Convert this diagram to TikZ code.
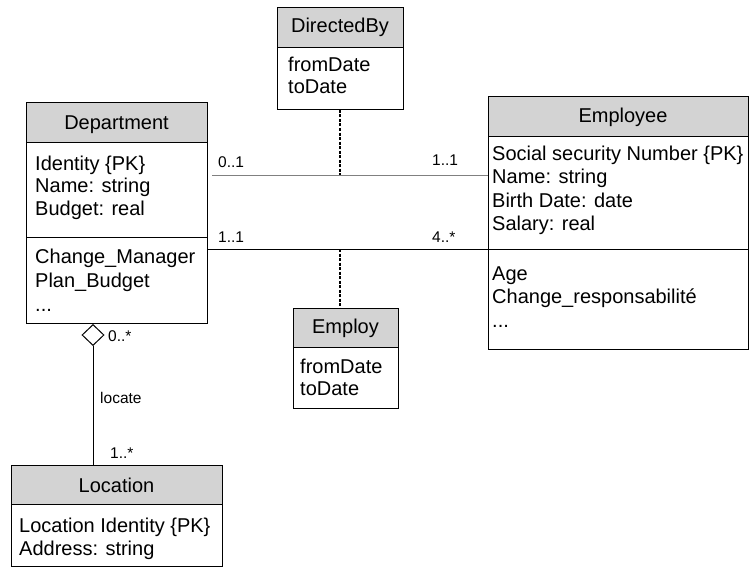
\documentclass[tikz,border=0pt]{standalone}
\usepackage{fontspec}
\setmainfont{Liberation Sans}
\usetikzlibrary{shapes.geometric}
\definecolor{headgray}{RGB}{211,211,211}
\definecolor{linegray}{RGB}{128,128,128}
\begin{document}
\begin{tikzpicture}[x=1pt,y=-1pt,
 box/.style={draw=black, line width=1pt, fill=white, inner sep=0, outer sep=0, anchor=north west},
 headbox/.style={box, fill=headgray},
 ttl/.style={anchor=base, inner sep=0, font=\fontsize{20}{23}\selectfont},
 attr/.style={anchor=base west, inner sep=0, font=\fontsize{20}{23}\selectfont},
 lbl/.style={anchor=base west, inner sep=0, font=\fontsize{15.5}{18}\selectfont},
 sepline/.style={line width=1pt},
 assoc/.style={line width=1pt},
 linkdash/.style={line width=1.3pt, dash pattern=on 3pt off 1.5pt},
]
\useasboundingbox (0,0) rectangle (749,567);

% Department
\node[box, minimum width=181pt, minimum height=220pt] (dept) at (26,103) {};
\node[headbox, minimum width=181pt, minimum height=39pt] (depth) at (26,103) {};
\node[ttl] (deptt) at (116.5,129) {Department};
\draw[sepline] (26,237) -- (207,237);
\node[attr] (d1) at (35,170) {Identity \{PK\}};
\node[attr] (d2) at (35,192.5) {Name: string};
\node[attr] (d3) at (35,215) {Budget: real};
\node[attr] (d4) at (35,263) {Change\_Manager};
\node[attr] (d5) at (35,287) {Plan\_Budget};
\node[attr] (d6) at (35,311) {...};

% Employee
\node[box, minimum width=260pt, minimum height=252pt] (emp) at (488,97) {};
\node[headbox, minimum width=260pt, minimum height=39pt] (emph) at (488,97) {};
\node[ttl] (empt) at (623,122) {Employee};
\draw[sepline] (488,249) -- (748,249);
\node[attr] (e1) at (492,160) {Social security Number \{PK\}};
\node[attr] (e2) at (492,183) {Name: string};
\node[attr] (e3) at (492,207) {Birth Date: date};
\node[attr] (e4) at (492,230) {Salary: real};
\node[attr] (e5) at (492,280) {Age};
\node[attr] (e6) at (492,303) {Change\_responsabilité};
\node[attr] (e7) at (492,327) {...};

% DirectedBy
\node[box, minimum width=126pt, minimum height=102pt] (dirby) at (277,8) {};
\node[headbox, minimum width=126pt, minimum height=40pt] (dirbyh) at (277,8) {};
\node[ttl] (dirbyt) at (340,33) {DirectedBy};
\node[attr] (b1) at (288,72) {fromDate};
\node[attr] (b2) at (288,94) {toDate};

% Employ
\node[box, minimum width=105pt, minimum height=100pt] (employ) at (293,308) {};
\node[headbox, minimum width=105pt, minimum height=39pt] (employh) at (293,308) {};
\node[ttl] (employt) at (345.5,333) {Employ};
\node[attr] (m1) at (300,373) {fromDate};
\node[attr] (m2) at (300,395) {toDate};

% Location
\node[box, minimum width=211pt, minimum height=101pt] (loc) at (11,465) {};
\node[headbox, minimum width=211pt, minimum height=39pt] (loch) at (11,465) {};
\node[ttl] (loct) at (116.5,492) {Location};
\node[attr] (l1) at (19,532) {Location Identity \{PK\}};
\node[attr] (l2) at (19,555) {Address: string};

% associations
\coordinate (a1) at (212,175);
\coordinate (a2) at (207,249);
\draw[assoc, draw=linegray] (a1) -- (a1 -| emp.west);
\draw[assoc] (a2) -- (a2 -| emp.west);
\coordinate (m1c) at (340,175);
\coordinate (m2c) at (340,249);
\draw[linkdash] (m1c |- dirby.south) -- (m1c);
\draw[linkdash] (m2c) -- (m2c |- employ.north);

% aggregation
\node[diamond, draw, line width=1pt, fill=white, minimum width=22pt, minimum height=21pt, inner sep=0, anchor=north] (agg) at (93,324) {};
\draw[assoc] (agg.south) -- (agg.south |- loc.north);

% labels
\node[lbl] (t1) at (218,167.5) {0..1};
\node[lbl] (t2) at (432,165) {1..1};
\node[lbl] (t3) at (218,242) {1..1};
\node[lbl] (t4) at (432,242) {4..*};
\node[lbl] (t5) at (108,341) {0..*};
\node[lbl] (t6) at (100,403) {locate};
\node[lbl] (t7) at (110,458) {1..*};
\end{tikzpicture}
\end{document}
